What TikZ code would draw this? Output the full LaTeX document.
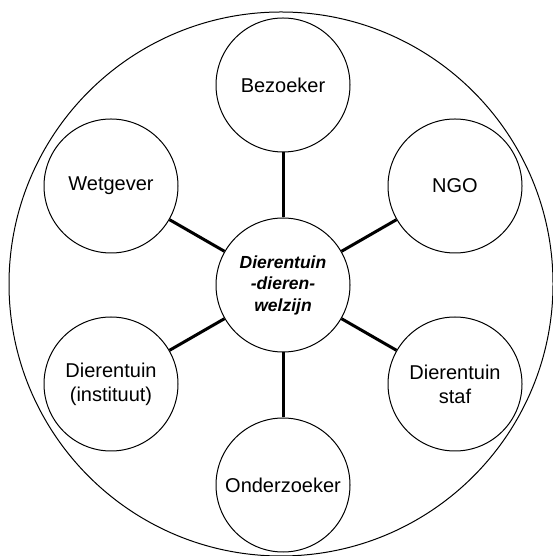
\documentclass[tikz,border=0pt]{standalone}
\usepackage{fontspec}
\setmainfont{Liberation Sans}
\begin{document}
\begin{tikzpicture}[x=1pt,y=1pt,
  actor/.style={circle,draw,line width=1pt,minimum size=134pt,inner sep=0pt,align=center,font=\fontsize{20}{24}\selectfont},
  hub/.style={actor,font=\fontsize{17.5}{21.5}\selectfont\bfseries\itshape},
  link/.style={line width=3pt}]
\useasboundingbox (0,0) rectangle (553,556);
\node[circle,draw,line width=1pt,minimum size=544pt,inner sep=0pt] (outer) at (281,272) {};
\node[hub] (c) at (283,271) {Dierentuin\\-dieren-\\welzijn};
\node[actor] (bez) at (283,471) {Bezoeker};
\node[actor] (wet) at (111,370) {Wetgever};
\node[actor] (ngo) at (455,370) {NGO};
\node[actor] (ins) at (111,172) {Dierentuin\\(instituut)};
\node[actor] (staf) at (455,172) {Dierentuin\\staf};
\node[actor] (ond) at (283,71) {Onderzoeker};
\foreach \n in {bez,wet,ngo,ins,staf,ond} \draw[link] (c) -- (\n);
\end{tikzpicture}
\end{document}
